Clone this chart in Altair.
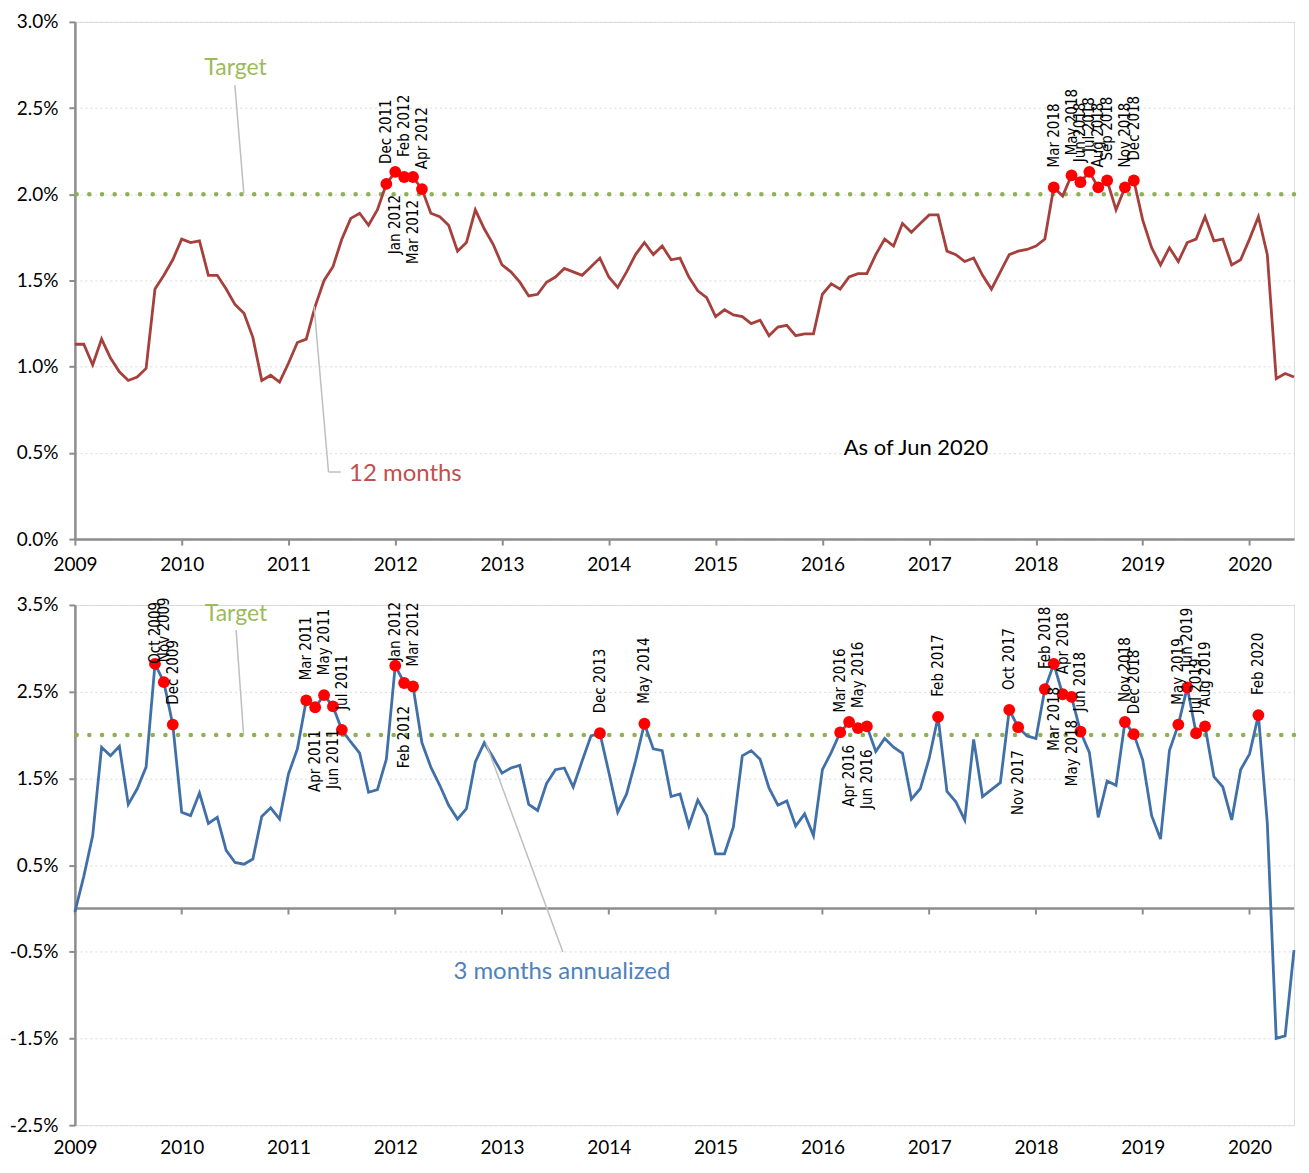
import altair as alt
import pandas as pd

# ---------------- data ----------------
MONTH_NAMES = ["Jan", "Feb", "Mar", "Apr", "May", "Jun",
               "Jul", "Aug", "Sep", "Oct", "Nov", "Dec"]
START_YEAR = 2009
N_MONTHS = 138  # Jan 2009 .. Jun 2020

# 12-month inflation (%)
infl_12m = [
    1.13, 1.13, 1.01, 1.16, 1.05, 0.97, 0.92, 0.94, 0.99, 1.45, 1.53, 1.62,   # 2009
    1.74, 1.72, 1.73, 1.53, 1.53, 1.45, 1.36, 1.31, 1.17, 0.92, 0.95, 0.91,   # 2010
    1.02, 1.14, 1.16, 1.35, 1.50, 1.58, 1.74, 1.86, 1.89, 1.82, 1.91, 2.06,   # 2011
    2.13, 2.10, 2.10, 2.03, 1.89, 1.87, 1.82, 1.67, 1.72, 1.91, 1.80, 1.71,   # 2012
    1.59, 1.55, 1.49, 1.41, 1.42, 1.49, 1.52, 1.57, 1.55, 1.53, 1.58, 1.63,   # 2013
    1.52, 1.46, 1.55, 1.65, 1.72, 1.65, 1.70, 1.62, 1.63, 1.52, 1.44, 1.40,   # 2014
    1.29, 1.33, 1.30, 1.29, 1.25, 1.27, 1.18, 1.23, 1.24, 1.18, 1.19, 1.19,   # 2015
    1.42, 1.48, 1.45, 1.52, 1.54, 1.54, 1.65, 1.74, 1.70, 1.83, 1.78, 1.83,   # 2016
    1.88, 1.88, 1.67, 1.65, 1.61, 1.63, 1.53, 1.45, 1.55, 1.65, 1.67, 1.68,   # 2017
    1.70, 1.74, 2.04, 1.99, 2.11, 2.07, 2.13, 2.04, 2.08, 1.91, 2.04, 2.08,   # 2018
    1.85, 1.69, 1.59, 1.69, 1.61, 1.72, 1.74, 1.87, 1.73, 1.74, 1.59, 1.62,   # 2019
    1.74, 1.87, 1.65, 0.93, 0.96, 0.94,                                       # 2020
]

# 3-month annualized inflation (%)
infl_3m = [
    -0.04, 0.37, 0.84, 1.86, 1.76, 1.87, 1.20, 1.38, 1.63, 2.82, 2.61, 2.12,  # 2009
    1.11, 1.07, 1.33, 0.98, 1.05, 0.67, 0.53, 0.51, 0.57, 1.06, 1.16, 1.03,   # 2010
    1.55, 1.84, 2.40, 2.32, 2.46, 2.33, 2.06, 1.92, 1.79, 1.34, 1.37, 1.72,   # 2011
    2.80, 2.60, 2.56, 1.91, 1.63, 1.42, 1.19, 1.03, 1.15, 1.69, 1.91, 1.74,   # 2012
    1.56, 1.62, 1.65, 1.20, 1.13, 1.44, 1.60, 1.62, 1.40, 1.70, 1.99, 2.02,   # 2013
    1.57, 1.11, 1.32, 1.70, 2.13, 1.84, 1.82, 1.29, 1.32, 0.95, 1.25, 1.07,   # 2014
    0.63, 0.63, 0.94, 1.76, 1.82, 1.72, 1.39, 1.19, 1.24, 0.95, 1.09, 0.84,   # 2015
    1.60, 1.80, 2.03, 2.15, 2.08, 2.10, 1.81, 1.96, 1.86, 1.79, 1.26, 1.38,   # 2016
    1.73, 2.21, 1.35, 1.23, 1.02, 1.95, 1.29, 1.37, 1.45, 2.29, 2.09, 1.99,   # 2017
    1.96, 2.53, 2.82, 2.47, 2.44, 2.04, 1.80, 1.05, 1.47, 1.42, 2.15, 2.01,   # 2018
    1.71, 1.07, 0.80, 1.82, 2.12, 2.55, 2.02, 2.10, 1.52, 1.40, 1.02, 1.60,   # 2019
    1.78, 2.23, 0.98, -1.50, -1.47, -0.48,                                    # 2020
]

TARGET = 2.0
YEARS = list(range(2009, 2021))

# labelled (above-target) months and where the label sits
top_above = ["Dec 2011", "Feb 2012", "Apr 2012", "Mar 2018", "May 2018", "Jun 2018",
             "Jul 2018", "Aug 2018", "Sep 2018", "Nov 2018", "Dec 2018"]
top_below = ["Jan 2012", "Mar 2012"]
bot_above = ["Nov 2009", "Dec 2009", "Mar 2011", "May 2011", "Jul 2011",
             "Mar 2012", "Dec 2013", "May 2014", "Mar 2016", "May 2016",
             "Feb 2017", "Oct 2017", "Feb 2018", "Apr 2018", "Jun 2018", "Nov 2018",
             "Dec 2018", "May 2019", "Jun 2019", "Jul 2019", "Aug 2019", "Feb 2020"]
bot_below = ["Apr 2011", "Jun 2011", "Feb 2012", "Apr 2016", "Jun 2016", "Nov 2017",
             "Mar 2018", "May 2018"]
bot_clamped = ["Oct 2009", "Jan 2012"]  # labels pushed against the top of the plot

# ---------------- tables ----------------
lab = [f"{MONTH_NAMES[i % 12]} {START_YEAR + i // 12}" for i in range(N_MONTHS)]
tt = [START_YEAR + i / 12 for i in range(N_MONTHS)]


def side(name, above, below, clamped):
    if name in above:
        return "above"
    if name in below:
        return "below"
    if name in clamped:
        return "top"
    return ""


df12 = pd.DataFrame({"t": tt, "v": infl_12m, "lab": lab,
                     "pos": [side(n, top_above, top_below, []) for n in lab]})
df3 = pd.DataFrame({"t": tt, "v": infl_3m, "lab": lab,
                    "pos": [side(n, bot_above, bot_below, bot_clamped) for n in lab]})
df_years = pd.DataFrame({"yr": YEARS})

# ---------------- styling ----------------
AX_FONT = "Lato"
ANN_FONT = "Lato"
LBL_FONT = "Liberation Sans Narrow, DejaVu Sans Condensed, Arial Narrow, sans-serif"
AX_GRAY = "#8C8C8C"
RED_LINE = "#A5403D"
BLUE_LINE = "#4170A8"
GREEN_DOT = "#8FB155"
W = 1221
H1, H2 = 518, 521
XDOM = [2009, 2020 + 5 / 12]
LBL_SIZE = 15

pct_expr = "replace(format(datum.value, '.1f'), '\u2212', '-') + '%'"


def y_axis(vals):
    return alt.Axis(values=vals, labelExpr=pct_expr, title=None, grid=True,
                    gridColor="#D9D9D9", gridDash=[2, 3], gridWidth=1,
                    domainColor=AX_GRAY, domainWidth=2.5, tickColor=AX_GRAY,
                    tickWidth=2, tickSize=6, labelPadding=11, labelFont=AX_FONT,
                    labelFontSize=19, labelColor="#000")


def point_layers(df, ydom, line_color, xaxis, yaxis, with_clamped):
    x_enc = alt.X("t:Q", scale=alt.Scale(domain=XDOM, nice=False, zero=False), axis=xaxis)
    y_enc = alt.Y("v:Q", scale=alt.Scale(domain=ydom, nice=False, zero=False), axis=yaxis)
    base = alt.Chart(df)
    line = base.mark_line(color=line_color, strokeWidth=2.8).encode(x=x_enc, y=y_enc)
    dots = base.transform_filter("datum.pos != ''").mark_circle(
        color="#FF0000", opacity=1, size=140).encode(x="t:Q", y="v:Q")
    above = base.transform_filter("datum.pos == 'above'").mark_text(
        angle=270, align="left", baseline="middle", dx=20, font=LBL_FONT,
        fontSize=LBL_SIZE, color="#000").encode(x="t:Q", y="v:Q", text="lab:N")
    below = base.transform_filter("datum.pos == 'below'").mark_text(
        angle=270, align="right", baseline="middle", dx=-23, font=LBL_FONT,
        fontSize=LBL_SIZE, color="#000").encode(x="t:Q", y="v:Q", text="lab:N")
    layers = [line, dots, above, below]
    if with_clamped:
        layers.append(base.transform_filter("datum.pos == 'top'").mark_text(
            angle=270, align="right", baseline="middle", dx=3, font=LBL_FONT,
            fontSize=LBL_SIZE, color="#000").encode(x="t:Q", y=alt.value(0), text="lab:N"))
    return layers


target_rule = alt.Chart(pd.DataFrame({"v": [TARGET]})).mark_rule(
    color=GREEN_DOT, strokeWidth=4.5, strokeDash=[0.1, 12.6], strokeCap="round"
).encode(y="v:Q")


def leader(x1, y1, x2, y2):
    return alt.Chart().mark_rule(color="#BFBFBF", strokeWidth=1.5).encode(
        x=alt.datum(x1), y=alt.datum(y1), x2=alt.datum(x2), y2=alt.datum(y2))


def note(x, y, txt, color, size, align="center"):
    return alt.Chart().mark_text(text=txt, color=color, font=ANN_FONT, fontSize=size,
                                 align=align, baseline="middle").encode(
        x=alt.datum(x), y=alt.datum(y))


# ---------------- top panel: 12 months ----------------
top_x_axis = alt.Axis(values=YEARS, format="d", title=None, grid=False,
                      domainColor=AX_GRAY, domainWidth=2.5, tickColor=AX_GRAY,
                      tickWidth=2, tickSize=6, labelPadding=10, labelFont=AX_FONT,
                      labelFontSize=19, labelColor="#000", labelFlush=False)
top_layers = point_layers(df12, [0, 3], RED_LINE, top_x_axis,
                          y_axis([0, 0.5, 1.0, 1.5, 2.0, 2.5, 3.0]), False)
top = alt.layer(
    target_rule, *top_layers,
    leader(2010.498, 2.633, 2010.582, 2.004),
    note(2010.505, 2.73, "Target", "#9BBB59", 23),
    leader(2011.24, 1.351, 2011.375, 0.389),
    leader(2011.375, 0.389, 2011.49, 0.389),
    note(2011.567, 0.38, "12 months", "#C0504D", 24, align="left"),
    note(2016.2, 0.526, "As of Jun 2020", "#000", 22, align="left"),
).properties(width=W, height=H1)

# ---------------- bottom panel: 3 months annualized ----------------
bot_x_axis = alt.Axis(values=YEARS, format="d", title=None, grid=False,
                      domain=False, ticks=False, labelPadding=13, labelFont=AX_FONT,
                      labelFontSize=19, labelColor="#000", labelFlush=False)
bot_layers = point_layers(df3, [-2.5, 3.5], BLUE_LINE, bot_x_axis,
                          y_axis([-2.5, -1.5, -0.5, 0.5, 1.5, 2.5, 3.5]), True)
zero_line = alt.Chart(pd.DataFrame({"v": [0]})).mark_rule(
    color=AX_GRAY, strokeWidth=2.5).encode(y="v:Q")
year_ticks = alt.Chart(df_years).mark_rule(color=AX_GRAY, strokeWidth=2).encode(
    x="yr:Q", y=alt.datum(0), y2=alt.datum(-0.07))
bottom = alt.layer(
    zero_line, year_ticks, target_rule, *bot_layers,
    leader(2010.51, 3.21, 2010.58, 2.0),
    note(2010.508, 3.39, "Target", "#9BBB59", 23),
    leader(2012.85, 1.904, 2013.57, -0.503),
    note(2013.56, -0.738, "3 months annualized", "#4F81BD", 24),
).properties(width=W, height=H2)

chart = alt.vconcat(top, bottom, spacing=20).properties(
    padding={"top": 3, "left": 0, "right": 0, "bottom": 0}
).configure_view(stroke=None).configure(background="white")

chart.save("out.html", embed_options={"renderer": "svg", "actions": False})
